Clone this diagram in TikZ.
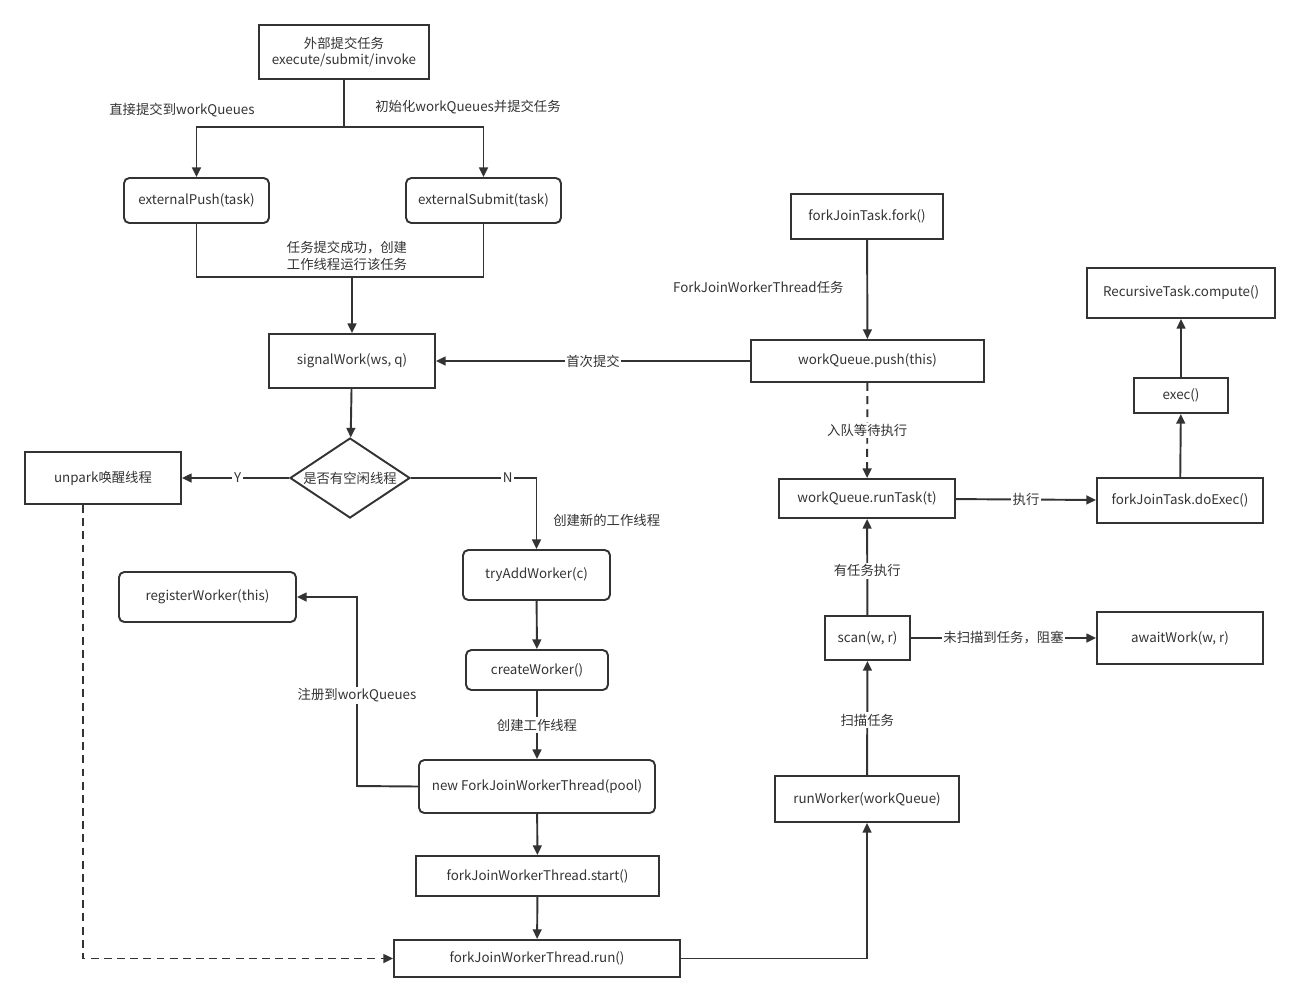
\documentclass[tikz,border=0pt]{standalone}
\usepackage{fontspec}
\setmainfont{Noto Sans CJK SC}
\usetikzlibrary{arrows.meta, positioning, shapes.geometric}
\definecolor{ink}{HTML}{333333}

\begin{document}
\begin{tikzpicture}[x=0.02cm, y=-0.02cm, >={Triangle[length=5.5pt,width=5pt]},
    font=\fontsize{7.6}{9.5}\selectfont, text=ink]
      % Define the styles for the nodes
      \tikzstyle{box}=[draw=ink, line width=1.1pt, inner sep=0pt, align=center]
      \tikzstyle{rbox}=[box, rounded corners=3pt]
      \tikzstyle{edge}=[draw=ink, line width=1.1pt]
      \tikzstyle{elbl}=[fill=white, inner sep=1pt]
      \tikzstyle{lbl}=[inner sep=1pt, align=center]

      \useasboundingbox (0,0) rectangle (1300,1002);

      % Left column
      \node[box, minimum width=3.4cm, minimum height=1.08cm] (top) at (344,52) {外部提交任务\\execute/submit/invoke};
      \node[rbox, minimum width=2.9cm, minimum height=0.9cm] (push) at (196.5,200.5) {externalPush(task)};
      \node[rbox, minimum width=3.1cm, minimum height=0.9cm] (submit) at (483.5,200.5) {externalSubmit(task)};
      \node[box, minimum width=3.32cm, minimum height=1.08cm] (signal) at (352,361) {signalWork(ws, q)};
      \node[diamond, draw=ink, line width=1.1pt, inner sep=0pt, minimum width=2.4cm, minimum height=1.6cm,
            label=center:是否有空闲线程] (idle) at (350,478) {};
      \node[box, minimum width=3.12cm, minimum height=1.04cm] (unpark) at (103,478) {unpark唤醒线程};
      \node[rbox, minimum width=2.94cm, minimum height=1.0cm] (tryadd) at (536.5,575) {tryAddWorker(c)};
      \node[rbox, minimum width=3.54cm, minimum height=1.0cm] (register) at (207.5,597) {registerWorker(this)};
      \node[rbox, minimum width=2.84cm, minimum height=0.8cm] (create) at (537,670) {createWorker()};
      \node[rbox, minimum width=4.72cm, minimum height=1.06cm] (newthread) at (537,786.5) {new ForkJoinWorkerThread(pool)};
      \node[box, minimum width=4.86cm, minimum height=0.8cm] (start) at (537.5,876) {forkJoinWorkerThread.start()};
      \node[box, minimum width=5.72cm, minimum height=0.74cm] (run) at (537,958.5) {forkJoinWorkerThread.run()};

      % Right column
      \node[box, minimum width=3.04cm, minimum height=0.9cm] (fork) at (867,216.5) {forkJoinTask.fork()};
      \node[box, minimum width=4.66cm, minimum height=0.84cm] (wqpush) at (867.5,361) {workQueue.push(this)};
      \node[box, minimum width=3.52cm, minimum height=0.78cm] (runtask) at (867,498.5) {workQueue.runTask(t)};
      \node[box, minimum width=3.32cm, minimum height=0.9cm] (doexec) at (1180,500.5) {forkJoinTask.doExec()};
      \node[box, minimum width=1.88cm, minimum height=0.7cm] (exec) at (1181,395.5) {exec()};
      \node[box, minimum width=3.76cm, minimum height=1.0cm] (compute) at (1181,293) {RecursiveTask.compute()};
      \node[box, minimum width=1.7cm, minimum height=0.88cm] (scan) at (867.5,638) {scan(w, r)};
      \node[box, minimum width=3.32cm, minimum height=1.04cm] (await) at (1180,638) {awaitWork(w, r)};
      \node[box, minimum width=3.68cm, minimum height=0.92cm] (runworker) at (867,799) {runWorker(workQueue)};

      % Turning points
      \coordinate (split) at (344,127);
      \coordinate (join) at (352,277);
      \coordinate (regturn) at (357,786);

      % Free labels
      \node[lbl] (lpush) at (182,110) {直接提交到workQueues};
      \node[lbl] (lsubmit) at (468,107) {初始化workQueues并提交任务};
      \node[lbl] (ljoin) at (347,256) {任务提交成功，创建\\工作线程运行该任务};

      % Edges
      \draw[edge] (top) -- (split);
      \draw[edge, ->] (split) -| (push.north);
      \draw[edge, ->] (split) -| (submit.north);
      \draw[edge] (push.south) |- (join);
      \draw[edge] (submit.south) |- (join);
      \draw[edge, ->] (join) -- (signal.north);
      \draw[edge, ->] (signal) -- (idle);
      \draw[edge, ->] (idle.west) -- node[elbl, pos=0.48] {Y} (unpark.east);
      \draw[edge, ->] (idle.east) -| node[elbl, pos=0.385] {N}
            node[lbl, right, pos=0.8, xshift=8pt] {创建新的工作线程} (tryadd.north);
      \draw[edge, ->] (tryadd) -- (create);
      \draw[edge, ->] (create) -- node[elbl] {创建工作线程} (newthread);
      \draw[edge, ->] (newthread.west) -- (regturn) |- node[elbl, pos=0.24] {注册到workQueues} (register.east);
      \draw[edge, ->] (newthread) -- (start);
      \draw[edge, ->] (start) -- (run);
      \draw[edge, ->, dash pattern=on 4.5pt off 3pt] ([xshift=-0.4cm]unpark.south) |- (run.west);
      \draw[edge, ->] (run.east) -| (runworker.south);
      \draw[edge, ->] (runworker) -- node[elbl, pos=0.48] {扫描任务} (scan);
      \draw[edge, ->] (scan) -- node[elbl, pos=0.46] {有任务执行} (runtask);
      \draw[edge, ->] (scan) -- node[elbl] {未扫描到任务，阻塞} (await);
      \draw[edge, ->] (fork) -- node[lbl, left, pos=0.475, xshift=-12pt] {ForkJoinWorkerThread任务} (wqpush);
      \draw[edge, ->] (wqpush) -- node[elbl] {首次提交} (signal);
      \draw[edge, ->, dash pattern=on 4.5pt off 3pt] (wqpush) -- node[elbl] {入队等待执行} (runtask);
      \draw[edge, ->] (runtask) -- node[elbl] {执行} (doexec);
      \draw[edge, ->] (doexec) -- (exec);
      \draw[edge, ->] (exec) -- (compute);

    \end{tikzpicture}
\end{document}
